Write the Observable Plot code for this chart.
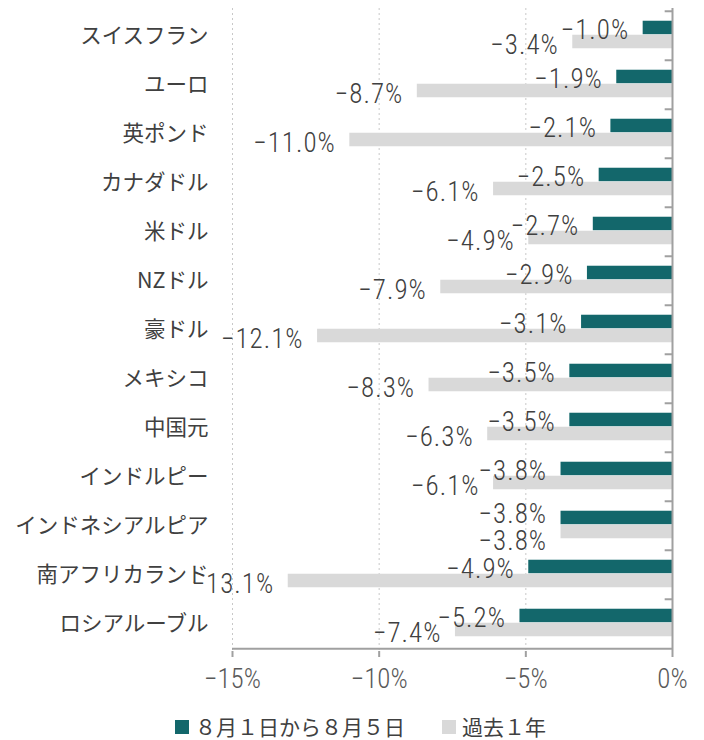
<!DOCTYPE html>
<html>
<head>
<meta charset="utf-8">
<script src="https://cdn.jsdelivr.net/npm/d3@7"></script>
<script src="https://cdn.jsdelivr.net/npm/@observablehq/plot@0.6"></script>
<style>
  html, body { margin: 0; padding: 0; background: #fff; }
  #wrap { position: relative; width: 704px; height: 740px; overflow: hidden; }
  #legend { position: absolute; left: 175px; top: 716px; display: flex; align-items: center;
    font-family: "Noto Sans CJK JP", sans-serif; font-size: 21px; color: #404040; line-height: 21px; white-space: nowrap; }
  .sw { display: inline-block; width: 14px; height: 14px; margin-right: 6px; }
  .item { display: flex; align-items: center; }
</style>
</head>
<body>
<div id="wrap">
  <div id="chart"></div>
  <div id="legend"></div>
</div>
<script>
const categories = ["スイスフラン", "ユーロ", "英ポンド", "カナダドル", "米ドル", "NZドル", "豪ドル", "メキシコ", "中国元", "インドルピー", "インドネシアルピア", "南アフリカランド", "ロシアルーブル"];
const recentChange = [-1.0, -1.9, -2.1, -2.5, -2.7, -2.9, -3.1, -3.5, -3.5, -3.8, -3.8, -4.9, -5.2];
const pastYearChange = [-3.4, -8.7, -11.0, -6.1, -4.9, -7.9, -12.1, -8.3, -6.3, -6.1, -3.8, -13.1, -7.4];
const seriesNames = ["８月１日から８月５日", "過去１年"];
const seriesColors = ["#13676b", "#d9d9d9"];
const xTicks = [-15, -10, -5, 0];

const W = 704, H = 700, MT = 8, MB = 49, ML = 232, MR = 32;
const step = (H - MT - MB) / categories.length;
const barH = 14;

const rows = categories.map((c, i) => ({cat: c, recent: recentChange[i], past: pastYearChange[i]}));
// labels of the two series collide when their values are close: spread them apart
const close = d => Math.abs(d.recent - d.past) < 1.5;
const fmt = v => (v < 0 ? "\u2212" : "") + Math.abs(v).toFixed(1) + "%";
const numFont = "'Roboto Condensed', 'Liberation Sans Narrow', 'DejaVu Sans Condensed', sans-serif";
const jpFont = "'Noto Sans CJK JP', sans-serif";
const last = categories[categories.length - 1];
const numStyle = {fontSize: 27, fontFamily: numFont, fontWeight: 300, fill: "#404040", textAnchor: "end", dx: -14};

const chart = Plot.plot({
  width: W, height: H,
  marginTop: MT, marginBottom: MB, marginLeft: ML, marginRight: MR,
  style: {background: "#fff"},
  x: {domain: [-15, 0]},
  y: {domain: categories, padding: 0},
  marks: [
    Plot.ruleX(xTicks.filter(d => d !== 0), {stroke: "#c8c8c8", strokeDasharray: "2,3", strokeWidth: 1}),
    Plot.barX(rows, {y: "cat", x1: 0, x2: "recent", fill: seriesColors[0],
      insetTop: step / 2 - barH - 1, insetBottom: step / 2 + 1}),
    Plot.barX(rows, {y: "cat", x1: 0, x2: "past", fill: seriesColors[1],
      insetTop: step / 2 - 1, insetBottom: step / 2 - barH + 1}),
    Plot.ruleX([0], {stroke: "#a0a0a0", strokeWidth: 2}),
    Plot.ruleY(categories, {y: d => d, x1: -0.25, x2: 0, dy: -step / 2, stroke: "#a0a0a0", strokeWidth: 2}),
    Plot.ruleY([last], {y: d => d, x1: -15, x2: 0, dy: step / 2, stroke: "#a0a0a0", strokeWidth: 2}),
    Plot.axisX({ticks: xTicks, tickFormat: d => (d < 0 ? "\u2212" : "") + Math.abs(d) + "%",
      tickSize: 6, tickPadding: 11, stroke: "#a0a0a0", strokeWidth: 2, fill: "#595959",
      fontSize: 27, fontWeight: 300, fontFamily: numFont, label: null}),
    Plot.axisY({anchor: "left", tickSize: 0, tickPadding: 24, fontSize: 21.5, fontFamily: jpFont,
      fill: "#404040", label: null}),
    Plot.text(rows.filter(d => !close(d)), {x: "recent", y: "cat", text: d => fmt(d.recent), dy: -6, ...numStyle}),
    Plot.text(rows.filter(close), {x: "recent", y: "cat", text: d => fmt(d.recent), dy: -12, ...numStyle}),
    Plot.text(rows.filter(d => !close(d)), {x: "past", y: "cat", text: d => fmt(d.past), dy: 9, ...numStyle}),
    Plot.text(rows.filter(close), {x: "past", y: "cat", text: d => fmt(d.past), dy: 15, ...numStyle})
  ]
});
d3.select(chart).selectAll("g[aria-label='text'] text").attr("letter-spacing", "1");
document.getElementById("chart").appendChild(chart);

const legend = document.getElementById("legend");
seriesNames.forEach((name, i) => {
  const item = document.createElement("span");
  item.className = "item";
  if (i > 0) item.style.marginLeft = "37px";
  const sw = document.createElement("span");
  sw.className = "sw";
  sw.style.background = seriesColors[i];
  item.appendChild(sw);
  const t = document.createElement("span");
  t.textContent = name;
  item.appendChild(t);
  legend.appendChild(item);
});
</script>
</body>
</html>
